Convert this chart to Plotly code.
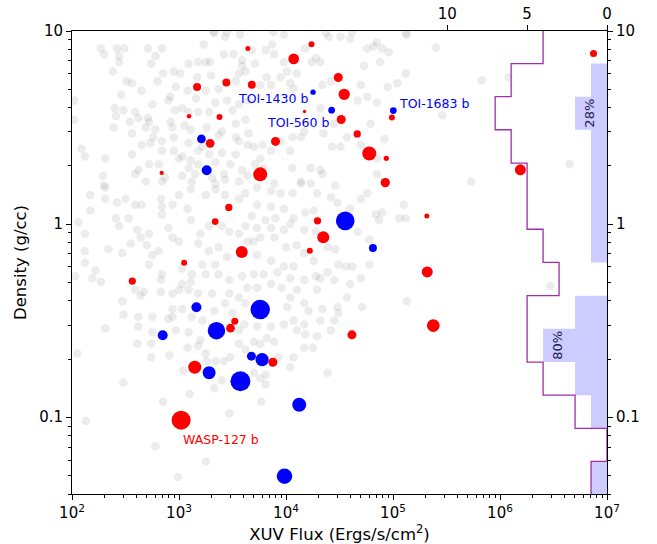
import numpy as np
import plotly.graph_objects as go

# ---------------- data ----------------
red_flux = [4400, 17300, 11800, 1475, 2770, 4790, 14900, 1242, 2390, 1954,
            7980, 689, 5740, 2920, 2180, 19700, 22300, 3860, 16700, 1117,
            366, 30800, 35000, 32800, 97700, 46300, 60000, 86500, 84700, 207000,
            209000, 238000, 41300, 7.48e6, 1.55e6, 3320, 3030, 7540, 1403, 1047]
red_density = [8.11, 8.54, 7.17, 5.13, 5.41, 5.26, 3.83, 3.62, 3.59, 2.62,
               2.68, 1.84, 1.81, 1.22, 1.03, 1.04, 0.854, 0.717, 0.728, 0.631,
               0.507, 5.74, 4.70, 3.48, 3.56, 2.93, 2.32, 2.19, 1.64, 1.10,
               0.565, 0.298, 0.267, 7.65, 1.91, 0.314, 0.289, 0.1925, 0.1815, 0.0965]
red_size = [5, 6, 10.7, 8, 8, 8, 3.3, 4.5, 6, 8.7,
            9, 4.3, 14, 7.3, 6.7, 7.3, 12, 12, 6, 6,
            7.3, 9, 11.3, 9, 6, 7.3, 14, 5.3, 9.3, 5,
            11, 12.7, 9, 7, 11, 7, 8.7, 9, 13, 19]

blue_flux = [17900, 26700, 100700, 1620, 1815, 35800, 64900, 1455, 5740, 2240,
             704, 4750, 5980, 1912, 3750, 13290, 9680]
blue_density = [4.82, 3.89, 3.87, 2.76, 1.90, 1.04, 0.751, 0.371, 0.361, 0.2805,
                0.2655, 0.207, 0.1986, 0.170, 0.1535, 0.116, 0.0495]
blue_size = [5.3, 6.7, 6.7, 8.7, 10, 18.7, 8, 10, 19.5, 17.5,
             10, 9, 13.3, 13, 20, 14, 15.5]

# named planets: (label, colour group, index into group)
label_names = ["TOI-1430 b", "TOI-560 b", "TOI-1683 b", "WASP-127 b"]
label_group = ["blue", "blue", "blue", "red"]
label_index = [0, 1, 2, 39]

# background population (log10 values)
gray_a_logflux = [3.33,3.43,3.57,2.27,2.30,2.42,2.49,2.44,2.44,2.71,
                  2.78,2.84,2.74,2.38,3.23,3.42,3.51,3.59,3.18,3.25,
                  3.29,3.09,3.59,3.62,2.95,3.01,2.85,3.17,3.30,3.53,
                  3.56,2.51,2.56,2.80,2.97,3.08,3.25,3.37,2.65,2.46,
                  2.92,2.90,3.16,3.34,3.45,3.56,3.65,2.75,3.03,3.09,
                  2.40,2.48,2.59,2.62,2.41,2.71,2.72,2.54,2.96,3.18,
                  3.28,3.50,3.62,3.53,2.92,3.05,3.11,2.94,3.26,3.40,
                  2.39,2.56,2.69,2.78,2.76,2.84,2.95,3.09,3.22,3.37,
                  3.53,3.56,3.65,2.73,2.65,2.84,2.95,3.03,3.11,3.18,
                  3.28,3.40,3.48,3.53,3.64,2.09,2.12,2.31,2.56,2.72,
                  2.81,3.00,3.09,3.18,3.34,3.42,3.59,3.64,2.62,2.59,
                  2.29,2.87,3.03,3.15,3.31,3.43,3.56,2.30,2.69,2.84,
                  3.12,3.34,2.02,2.02]
gray_a_logdens = [0.99,0.97,0.98,0.91,0.88,0.91,0.91,0.87,0.84,0.91,
                  0.87,0.91,0.83,0.79,0.93,0.88,0.88,0.85,0.84,0.84,
                  0.84,0.83,0.82,0.79,0.79,0.78,0.78,0.76,0.77,0.74,
                  0.78,0.74,0.73,0.74,0.71,0.69,0.69,0.70,0.69,0.67,
                  0.66,0.64,0.65,0.63,0.64,0.62,0.64,0.62,0.60,0.58,
                  0.60,0.59,0.58,0.55,0.56,0.55,0.53,0.53,0.59,0.58,
                  0.58,0.59,0.54,0.52,0.53,0.51,0.49,0.50,0.50,0.48,
                  0.50,0.47,0.50,0.49,0.45,0.43,0.45,0.42,0.40,0.46,
                  0.45,0.43,0.47,0.42,0.41,0.38,0.38,0.35,0.33,0.38,
                  0.36,0.37,0.31,0.36,0.41,0.39,0.35,0.34,0.36,0.31,
                  0.31,0.34,0.29,0.31,0.32,0.26,0.28,0.25,0.28,0.26,
                  0.25,0.24,0.25,0.26,0.24,0.23,0.22,0.20,0.22,0.22,
                  0.22,0.21,0.64,0.54]
gray_b_logflux = [3.98,3.87,3.81,3.68,3.71,3.89,3.98,4.18,4.28,4.32,
                  4.24,4.01,4.10,3.82,3.95,4.04,4.07,3.76,3.86,4.37,
                  4.40,4.51,4.60,4.85,4.82,4.90,4.96,4.76,4.73,4.88,
                  4.70,4.42,4.34,4.95,5.04,4.67,4.76,4.85,4.32,4.45,
                  4.57,4.70,4.92,4.79,4.51,4.43,4.35,4.17,4.06,4.14,
                  4.04,3.78,3.70,3.86,3.95,3.76,3.71,3.79,4.06,4.23,
                  4.32,4.34,4.14,4.23,3.89,4.85,4.85,5.13,5.12]
gray_b_logdens = [0.98,0.93,0.90,0.90,0.83,0.88,0.84,0.91,0.86,0.84,
                  0.84,0.79,0.78,0.76,0.76,0.73,0.70,0.72,0.72,0.99,
                  0.97,0.97,0.96,0.94,0.92,0.91,0.89,0.91,0.82,0.84,
                  0.72,0.74,0.72,0.71,0.73,0.64,0.66,0.63,0.60,0.52,
                  0.45,0.41,0.44,0.52,0.40,0.40,0.47,0.48,0.45,0.45,
                  0.38,0.41,0.40,0.38,0.43,0.34,0.31,0.29,0.29,0.29,
                  0.28,0.26,0.22,0.21,0.21,0.26,0.34,0.98,0.78]
gray_c_logflux = [2.31,2.17,2.31,2.17,2.42,2.50,2.59,2.65,2.83,2.84,
                  2.94,2.84,3.00,3.11,3.25,3.34,3.43,3.56,3.62,2.06,
                  2.12,2.41,2.44,2.53,2.61,2.64,2.72,2.70,2.47,2.34,
                  2.12,2.12,2.22,2.27,2.19,2.03,2.55,2.75,2.81,2.72,
                  2.84,2.83,2.94,2.90,3.00,3.08,3.11,3.20,3.18,3.28,
                  3.40,3.47,3.56,3.62,3.64,3.28,3.37,3.45,3.34,3.22,
                  3.12,3.03,3.25,3.37,3.47,3.59,3.64,3.03,3.11,3.00,
                  3.09,3.18,2.94,2.67,2.64,2.59,2.83,2.47,2.48,2.62,
                  2.75,2.94,3.03,2.94,2.90,3.12,3.22,3.33,3.43,3.50,
                  3.56,3.47,3.62,3.31,2.31,2.62,2.75,2.97,3.09,3.56,
                  3.61]
gray_c_logdens = [0.19,0.15,0.13,0.07,0.11,0.13,0.10,0.10,0.13,0.09,
                  0.10,0.05,0.15,0.18,0.15,0.18,0.15,0.13,0.16,0.01,
                  -0.05,0.03,-0.01,0.03,-0.03,-0.07,-0.05,-0.11,-0.15,-0.13,
                  -0.14,-0.20,-0.24,-0.30,-0.28,-0.27,-0.10,-0.16,-0.14,-0.21,
                  -0.26,-0.29,-0.07,-0.02,-0.09,0.08,0.02,-0.05,-0.10,-0.01,
                  -0.01,-0.04,-0.05,-0.01,-0.09,-0.14,-0.12,-0.17,-0.21,-0.21,
                  -0.26,-0.23,-0.26,-0.26,-0.29,-0.27,-0.33,-0.31,-0.30,-0.34,
                  -0.34,-0.36,-0.36,-0.35,-0.37,-0.34,-0.35,-0.40,-0.47,-0.48,
                  -0.48,-0.48,-0.44,-0.44,-0.49,-0.48,-0.50,-0.45,-0.41,-0.46,
                  -0.38,-0.36,-0.41,-0.36,-0.54,-0.53,-0.56,-0.55,-0.56,-0.55,
                  -0.52]
gray_d_logflux = [3.73,3.86,3.95,4.06,4.14,4.29,4.46,4.42,4.48,4.70,
                  4.76,4.60,3.73,3.86,3.98,3.68,3.81,3.90,4.07,4.18,
                  4.26,3.73,3.86,3.98,4.04,4.17,4.28,3.70,3.76,3.89,
                  4.00,4.10,4.17,4.39,4.46,4.67,4.78,4.84,4.90,4.87,
                  5.10,5.06,5.12,3.73,3.86,3.98,4.07,4.26,4.49,4.56,
                  4.62,4.78,3.70,3.79,3.92,4.04,4.17,4.28,4.32,4.39,
                  4.45,4.60,4.70,3.73,3.86,3.96,4.04,4.10,4.29,4.57,
                  4.01,4.17,4.21,4.34,4.48,4.49,4.71,5.13,4.07,4.17,
                  4.32,4.45,3.73,3.86,3.98,4.10,4.18,4.29,4.42]
gray_d_logdens = [0.19,0.17,0.16,0.16,0.21,0.16,0.20,0.14,0.11,0.13,
                  0.16,0.08,0.10,0.09,0.08,0.04,0.02,0.03,0.03,0.06,
                  0.07,-0.02,-0.02,-0.03,0.00,-0.03,-0.04,-0.09,-0.07,-0.07,
                  -0.12,-0.11,-0.15,-0.12,-0.13,-0.04,-0.08,0.05,0.06,0.02,
                  0.10,0.03,0.03,-0.16,-0.19,-0.22,-0.22,-0.19,-0.21,-0.22,
                  -0.22,-0.21,-0.26,-0.26,-0.25,-0.28,-0.29,-0.27,-0.28,-0.25,
                  -0.29,-0.31,-0.28,-0.33,-0.31,-0.33,-0.38,-0.34,-0.34,-0.38,
                  -0.43,-0.41,-0.45,-0.44,-0.43,-0.46,-0.43,-0.40,-0.50,-0.52,
                  -0.50,-0.50,-0.53,-0.53,-0.52,-0.55,-0.57,-0.58,-0.55]
gray_e_logflux = [2.05,2.61,2.74,2.74,2.91,3.08,3.18,3.25,3.20,3.26,
                  3.34,3.42,3.48,3.04,3.40,3.33,2.48,2.85,3.10,3.47,
                  2.13,2.78,3.25,2.99,3.56,3.62,
                  3.70,3.76,3.89,3.82,4.17,4.25,3.93,4.07,4.04,4.39,
                  3.70,3.76,3.81,3.81,3.77]
gray_e_logdens = [-0.67,-0.62,-0.62,-0.69,-0.68,-0.64,-0.63,-0.67,-0.60,-0.71,
                  -0.71,-0.71,-0.69,-0.76,-0.81,-0.85,-0.82,-0.92,-0.88,-0.98,
                  -1.02,-1.15,-1.23,-1.31,-0.62,-0.65,
                  -0.61,-0.62,-0.61,-0.59,-0.64,-0.64,-0.69,-0.69,-0.74,-0.77,
                  -0.77,-0.80,-0.78,-0.83,-0.92]
gray_f_logflux = [5.83,6.08,5.46,5.40,6.65,5.73,6.47,3.32,3.45,3.88,4.62,5.12]
gray_f_logdens = [0.745,0.76,0.564,0.914,0.31,0.22,-0.32,0.995,0.995,0.995,0.995,0.99]

# density histogram (horizontal), bin edges in g/cc
hist_edges = [10.07, 6.78, 4.57, 3.08, 2.07, 1.40, 0.940, 0.633, 0.426,
              0.287, 0.193, 0.130, 0.0875, 0.0590, 0.0397]
all_counts = [4, 6, 7, 6, 5, 5, 4, 3, 5, 5, 4, 2, 0, 1]
blue_counts = [0, 1, 2, 1, 1, 1, 1, 0, 2, 4, 2, 1, 0, 1]
pct_labels = ["28%", "80%"]
pct_bins = [2, 9]

x_tickvals = [1e2, 1e3, 1e4, 1e5, 1e6, 1e7]
x_ticktext = ["10<sup>2</sup>", "10<sup>3</sup>", "10<sup>4</sup>",
              "10<sup>5</sup>", "10<sup>6</sup>", "10<sup>7</sup>"]
y_tickvals = [0.1, 1, 10]
y_ticktext = ["0.1", "1", "10"]
count_tickvals = [0, 5, 10]

# ---------------- build ----------------
gx = np.concatenate([gray_a_logflux, gray_b_logflux, gray_c_logflux,
                     gray_d_logflux, gray_e_logflux, gray_f_logflux])
gy = np.concatenate([gray_a_logdens, gray_b_logdens, gray_c_logdens,
                     gray_d_logdens, gray_e_logdens, gray_f_logdens])

FONT = "DejaVu Sans"
fig = go.Figure()

fig.add_trace(go.Scatter(
    x=np.power(10.0, gx), y=np.power(10.0, gy), mode="markers",
    marker=dict(size=8.5, color="rgba(128,128,128,0.15)", opacity=1,
                line=dict(width=0)),
    hoverinfo="skip", showlegend=False))

fig.add_trace(go.Scatter(
    x=red_flux, y=red_density, mode="markers",
    marker=dict(size=red_size, color="#ff0000", opacity=1, line=dict(width=0)),
    showlegend=False))
fig.add_trace(go.Scatter(
    x=blue_flux, y=blue_density, mode="markers",
    marker=dict(size=blue_size, color="#0000ff", opacity=1, line=dict(width=0)),
    showlegend=False))


def step_path(counts):
    xs = [0]
    ys = [hist_edges[0]]
    for i, c in enumerate(counts):
        xs += [c, c]
        ys += [hist_edges[i], hist_edges[i + 1]]
    xs.append(0)
    ys.append(hist_edges[-1])
    return xs, ys


bx, by = step_path(blue_counts)
fig.add_trace(go.Scatter(
    x=bx, y=by, xaxis="x2", yaxis="y2", mode="lines", fill="toself",
    fillcolor="#ccccff", line=dict(width=0, color="#ccccff"),
    hoverinfo="skip", showlegend=False))
ax_, ay_ = step_path(all_counts)
fig.add_trace(go.Scatter(
    x=ax_, y=ay_, xaxis="x2", yaxis="y2", mode="lines",
    line=dict(color="#a32ea8", width=1.3),
    hoverinfo="skip", showlegend=False))

# labels for named planets
label_style = {
    "TOI-1430 b": dict(xanchor="right", xshift=-3, yshift=-6),
    "TOI-560 b": dict(xanchor="right", xshift=0, yshift=-12),
    "TOI-1683 b": dict(xanchor="left", xshift=4, yshift=7),
    "WASP-127 b": dict(xanchor="left", xshift=0, yshift=-19),
}
for name, grp, idx in zip(label_names, label_group, label_index):
    if grp == "blue":
        fx, fy, col = blue_flux[idx], blue_density[idx], "#0000ff"
    else:
        fx, fy, col = red_flux[idx], red_density[idx], "#ff0000"
    st = label_style[name]
    fig.add_annotation(x=np.log10(fx), y=np.log10(fy), xref="x", yref="y",
                       text=name, showarrow=False, yanchor="middle",
                       font=dict(family=FONT, size=12.5, color=col), **st)

for lab, b in zip(pct_labels, pct_bins):
    yc = 0.5 * (np.log10(hist_edges[b]) + np.log10(hist_edges[b + 1]))
    fig.add_annotation(x=blue_counts[b] - 0.9, y=yc, xref="x2", yref="y2",
                       text=lab, showarrow=False, textangle=-90,
                       xanchor="center", yanchor="middle",
                       font=dict(family=FONT, size=13, color="#1b1b4a"))

minor_x = [m * 10 ** k for k in range(2, 7) for m in range(2, 10)]
minor_y = [m * 10 ** k for k in range(-2, 1) for m in range(2, 10)
           if 0.04 <= m * 10 ** k <= 10]
yrange = [np.log10(0.04), 1]

common = dict(showline=True, linecolor="black", linewidth=1, ticks="outside",
              ticklen=5, tickwidth=1, tickcolor="black", showgrid=False,
              zeroline=False, automargin=False,
              tickfont=dict(family=FONT, size=15, color="black"))
minor_common = dict(ticks="outside", ticklen=3, tickwidth=0.8,
                    tickcolor="black", showgrid=False, tickmode="array")

fig.update_layout(
    width=657, height=544, autosize=False,
    margin=dict(l=72, r=50, t=31, b=50, autoexpand=False),
    paper_bgcolor="white", plot_bgcolor="white",
    font=dict(family=FONT, color="black"),
    showlegend=False,
    xaxis=dict(type="log", range=[2, 7], tickmode="array",
               tickvals=x_tickvals, ticktext=x_ticktext,
               minor=dict(tickvals=minor_x, **minor_common),
               title=dict(text="XUV Flux (Ergs/s/cm<sup>2</sup>)",
                          font=dict(family=FONT, size=16.5), standoff=6),
               **common),
    yaxis=dict(type="log", range=yrange, tickmode="array",
               tickvals=y_tickvals, ticktext=y_ticktext,
               minor=dict(tickvals=minor_y, **minor_common),
               title=dict(text="Density (g/cc)",
                          font=dict(family=FONT, size=16.5), standoff=8),
               **common),
    xaxis2=dict(overlaying="x", side="top", anchor="y2",
                range=[534.8 / 15.97, 0], tickmode="array",
                tickvals=count_tickvals, **common),
    yaxis2=dict(overlaying="y", side="right", anchor="x2", type="log",
                range=yrange, tickmode="array",
                tickvals=y_tickvals, ticktext=y_ticktext,
                minor=dict(tickvals=minor_y, **minor_common),
                **common),
)

fig.write_html("out.html")
